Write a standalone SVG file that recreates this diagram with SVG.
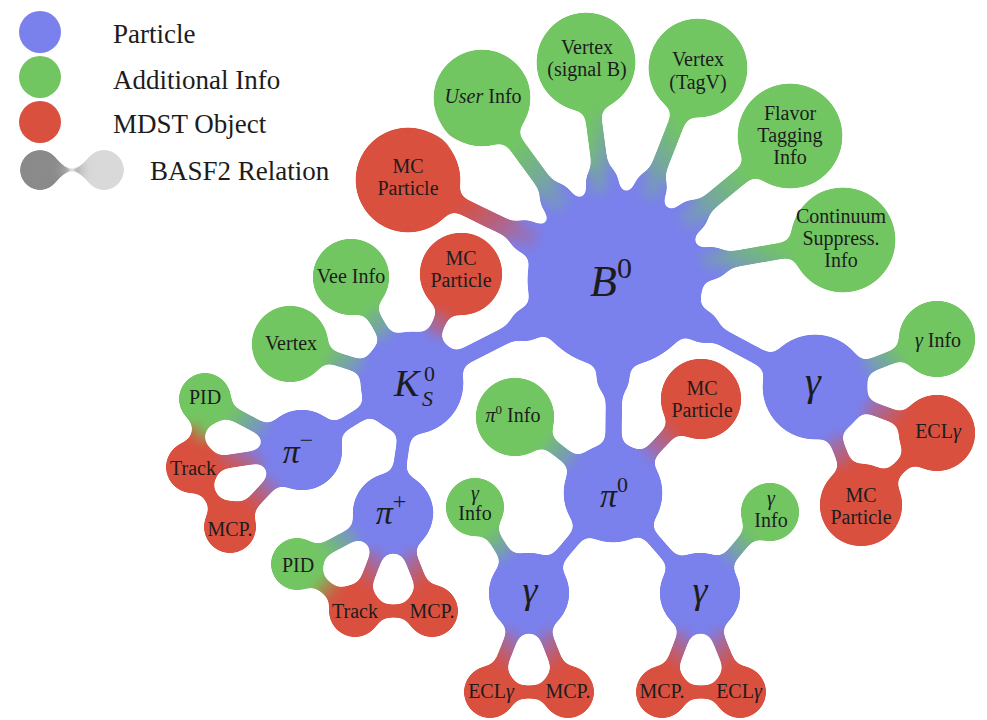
<svg xmlns="http://www.w3.org/2000/svg" width="987" height="720" viewBox="0 0 987 720">
<defs>
<filter id="goo" filterUnits="userSpaceOnUse" x="0" y="0" width="987" height="720" color-interpolation-filters="sRGB">
<feGaussianBlur in="SourceGraphic" stdDeviation="6" result="b"/>
<feColorMatrix in="b" type="matrix" values="1 0 0 0 0  0 1 0 0 0  0 0 1 0 0  0 0 0 20 -10"/>
</filter>
<linearGradient id="bg-nw" x1="1" y1="1" x2="0" y2="0"><stop offset="0.3" stop-color="#7a80ec"/><stop offset="0.75" stop-color="#72c662"/></linearGradient>
<linearGradient id="bg-ne" x1="0" y1="1" x2="1" y2="0"><stop offset="0.3" stop-color="#7a80ec"/><stop offset="0.75" stop-color="#72c662"/></linearGradient>
<linearGradient id="bg-sw" x1="1" y1="0" x2="0" y2="1"><stop offset="0.3" stop-color="#7a80ec"/><stop offset="0.75" stop-color="#72c662"/></linearGradient>
<linearGradient id="br-nw" x1="1" y1="1" x2="0" y2="0"><stop offset="0.3" stop-color="#7a80ec"/><stop offset="0.75" stop-color="#d9503f"/></linearGradient>
<linearGradient id="br-ne" x1="0" y1="1" x2="1" y2="0"><stop offset="0.3" stop-color="#7a80ec"/><stop offset="0.75" stop-color="#d9503f"/></linearGradient>
<linearGradient id="br-sw" x1="1" y1="0" x2="0" y2="1"><stop offset="0.3" stop-color="#7a80ec"/><stop offset="0.75" stop-color="#d9503f"/></linearGradient>
<linearGradient id="br-se" x1="0" y1="0" x2="1" y2="1"><stop offset="0.3" stop-color="#7a80ec"/><stop offset="0.75" stop-color="#d9503f"/></linearGradient>
<linearGradient id="gr-sw" x1="1" y1="0" x2="0" y2="1"><stop offset="0.3" stop-color="#72c662"/><stop offset="0.7" stop-color="#d9503f"/></linearGradient>
<linearGradient id="gr-se" x1="0" y1="0" x2="1" y2="1"><stop offset="0.3" stop-color="#72c662"/><stop offset="0.7" stop-color="#d9503f"/></linearGradient>
<style>
.pb{fill:#7a80ec}
.pg{fill:#72c662}
.pr{fill:#d9503f}
.k1{fill:#8a8a8a}
.k2{fill:#d9d9d9}
line{stroke-linecap:round;stroke-width:14}
.bb{stroke:#7a80ec}
.rr{stroke:#d9503f}
.bgnw{stroke:url(#bg-nw)}
.bgne{stroke:url(#bg-ne)}
.bgsw{stroke:url(#bg-sw)}
.brnw{stroke:url(#br-nw)}
.brne{stroke:url(#br-ne)}
.brsw{stroke:url(#br-sw)}
.brse{stroke:url(#br-se)}
.grsw{stroke:url(#gr-sw)}
.grse{stroke:url(#gr-se)}
.kk{stroke:#b0b0b0;stroke-width:8}
.thick{stroke-width:17}
.flare{stroke:#7a80ec;stroke-width:34}
text{font-family:"Liberation Serif","DejaVu Serif",serif;fill:#1c1c1c;text-anchor:middle;font-size:20px}
.lg{text-anchor:start;font-size:27px}
.it{font-style:italic}
.st{text-anchor:start}
</style>
</defs>
<rect x="0" y="0" width="987" height="720" fill="#ffffff"/>

<g id="legend">
<circle class="pb" cx="40" cy="32" r="21"/>
<circle class="pg" cx="40" cy="77" r="21"/>
<circle class="pr" cx="40" cy="122" r="21"/>
<g filter="url(#goo)">
<line class="kk" x1="40" y1="170" x2="104" y2="170"/>
<circle class="k1" cx="40" cy="170" r="21"/>
<circle class="k2" cx="104" cy="170" r="21"/>
</g>
<text class="lg" x="113" y="43">Particle</text>
<text class="lg" x="113" y="89">Additional Info</text>
<text class="lg" x="113" y="133">MDST Object</text>
<text class="lg" x="150" y="180">BASF2 Relation</text>
</g>

<g id="graph" filter="url(#goo)">
<g id="connectors">
<line class="flare" x1="615" y1="280" x2="525" y2="236"/>
<line class="flare" x1="615" y1="280" x2="556" y2="199"/>
<line class="flare" x1="615" y1="280" x2="602" y2="181"/>
<line class="flare" x1="615" y1="280" x2="651" y2="187"/>
<line class="flare" x1="615" y1="280" x2="692" y2="216"/>
<line class="flare" x1="615" y1="280" x2="713" y2="263"/>
<line class="flare" x1="615" y1="280" x2="526" y2="325"/>
<line class="flare" x1="615" y1="280" x2="613" y2="380"/>
<line class="flare" x1="615" y1="280" x2="703" y2="327"/>
<line class="brnw thick" x1="615" y1="280" x2="408" y2="180"/>
<line class="bgnw thick" x1="615" y1="280" x2="482" y2="98"/>
<line class="bgnw thick" x1="615" y1="280" x2="586" y2="62"/>
<line class="bgne thick" x1="615" y1="280" x2="698" y2="68"/>
<line class="bgne thick" x1="615" y1="280" x2="790" y2="136"/>
<line class="bgne thick" x1="615" y1="280" x2="843" y2="240"/>
<line class="bb thick" x1="615" y1="280" x2="412" y2="383"/>
<line class="bb thick" x1="615" y1="280" x2="613" y2="493"/>
<line class="bb thick" x1="615" y1="280" x2="815" y2="387"/>
<line class="bgnw" x1="412" y1="383" x2="351" y2="277"/>
<line class="brne" x1="412" y1="383" x2="461" y2="274"/>
<line class="bgnw" x1="412" y1="383" x2="290" y2="344"/>
<line class="bb" x1="412" y1="383" x2="302" y2="450"/>
<line class="bb" x1="412" y1="383" x2="393" y2="513"/>
<line class="bgnw" x1="302" y1="450" x2="205" y2="399"/>
<line class="brsw" x1="302" y1="450" x2="192" y2="467"/>
<line class="brsw" x1="302" y1="450" x2="230" y2="527"/>
<line class="grsw" x1="205" y1="399" x2="192" y2="467"/>
<line class="rr" x1="192" y1="467" x2="230" y2="527"/>
<line class="bgsw" x1="393" y1="513" x2="297" y2="564"/>
<line class="brsw" x1="393" y1="513" x2="355" y2="611"/>
<line class="brse" x1="393" y1="513" x2="432" y2="611"/>
<line class="grse" x1="297" y1="564" x2="355" y2="611"/>
<line class="rr" x1="355" y1="611" x2="432" y2="611"/>
<line class="bgnw" x1="613" y1="493" x2="515" y2="417"/>
<line class="brne" x1="613" y1="493" x2="701" y2="399"/>
<line class="bb" x1="613" y1="493" x2="529" y2="593"/>
<line class="bb" x1="613" y1="493" x2="700" y2="593"/>
<line class="bgnw" x1="529" y1="593" x2="475" y2="507"/>
<line class="brsw" x1="529" y1="593" x2="490" y2="692"/>
<line class="brse" x1="529" y1="593" x2="568" y2="692"/>
<line class="rr" x1="490" y1="692" x2="568" y2="692"/>
<line class="bgne" x1="700" y1="593" x2="770" y2="510"/>
<line class="brsw" x1="700" y1="593" x2="662" y2="692"/>
<line class="brse" x1="700" y1="593" x2="740" y2="692"/>
<line class="rr" x1="662" y1="692" x2="740" y2="692"/>
<line class="bgne" x1="815" y1="387" x2="936" y2="340"/>
<line class="brse" x1="815" y1="387" x2="936" y2="432"/>
<line class="brse" x1="815" y1="387" x2="861" y2="505"/>
<line class="rr" x1="936" y1="432" x2="861" y2="505"/>
</g>
<g id="node-B0"><circle class="pb" cx="615" cy="280" r="88"/></g>
<g id="node-mc-b"><circle class="pr" cx="408" cy="180" r="53"/></g>
<g id="node-user-info"><circle class="pg" cx="482" cy="98" r="49"/></g>
<g id="node-vertex-signal"><circle class="pg" cx="586" cy="62" r="50"/></g>
<g id="node-vertex-tagv"><circle class="pg" cx="698" cy="68" r="50"/></g>
<g id="node-flavor"><circle class="pg" cx="790" cy="136" r="53"/></g>
<g id="node-continuum"><circle class="pg" cx="843" cy="240" r="53"/></g>
<g id="node-K"><circle class="pb" cx="412" cy="383" r="52"/></g>
<g id="node-vee-info"><circle class="pg" cx="351" cy="277" r="39"/></g>
<g id="node-mc-k"><circle class="pr" cx="461" cy="274" r="42"/></g>
<g id="node-vertex-k"><circle class="pg" cx="290" cy="344" r="39"/></g>
<g id="node-pim"><circle class="pb" cx="302" cy="450" r="41"/></g>
<g id="node-pid-m"><circle class="pg" cx="205" cy="399" r="27"/></g>
<g id="node-track-m"><circle class="pr" cx="192" cy="467" r="27"/></g>
<g id="node-mcp-m"><circle class="pr" cx="230" cy="527" r="27"/></g>
<g id="node-pip"><circle class="pb" cx="393" cy="513" r="41"/></g>
<g id="node-pid-p"><circle class="pg" cx="297" cy="564" r="27"/></g>
<g id="node-track-p"><circle class="pr" cx="355" cy="611" r="27"/></g>
<g id="node-mcp-p"><circle class="pr" cx="432" cy="611" r="27"/></g>
<g id="node-pi0"><circle class="pb" cx="613" cy="493" r="50"/></g>
<g id="node-pi0-info"><circle class="pg" cx="515" cy="417" r="40"/></g>
<g id="node-mc-pi0"><circle class="pr" cx="701" cy="399" r="41"/></g>
<g id="node-gamma-l"><circle class="pb" cx="529" cy="593" r="41"/></g>
<g id="node-ginfo-l"><circle class="pg" cx="475" cy="507" r="30"/></g>
<g id="node-ecl-l"><circle class="pr" cx="490" cy="692" r="27"/></g>
<g id="node-mcp-l"><circle class="pr" cx="568" cy="692" r="27"/></g>
<g id="node-gamma-r"><circle class="pb" cx="700" cy="593" r="41"/></g>
<g id="node-ginfo-r"><circle class="pg" cx="770" cy="512" r="30"/></g>
<g id="node-mcp-r"><circle class="pr" cx="662" cy="692" r="27"/></g>
<g id="node-ecl-r"><circle class="pr" cx="740" cy="692" r="27"/></g>
<g id="node-gamma-b"><circle class="pb" cx="815" cy="387" r="53"/></g>
<g id="node-ginfo-b"><circle class="pg" cx="937" cy="339" r="39"/></g>
<g id="node-ecl-b"><circle class="pr" cx="937" cy="433" r="39"/></g>
<g id="node-mc-g"><circle class="pr" cx="861" cy="505" r="42"/></g>
</g>

<g id="labels">
<text x="611" y="296" class="it" style="font-size:44px">B<tspan style="font-style:normal;font-size:30px" dy="-18">0</tspan></text>
<text x="408" y="173">MC</text><text x="408" y="195">Particle</text>
<text x="483" y="103"><tspan class="it">User</tspan> Info</text>
<text x="587" y="54">Vertex</text><text x="587" y="76">(signal B)</text>
<text x="698" y="66">Vertex</text><text x="698" y="89">(TagV)</text>
<text x="790" y="120">Flavor</text><text x="790" y="142">Tagging</text><text x="790" y="164">Info</text>
<text x="841" y="223">Continuum</text><text x="841" y="245">Suppress.</text><text x="841" y="267">Info</text>
<text x="394" y="396" class="it st" style="font-size:38px">K</text>
<text x="424" y="381" class="st" style="font-size:22px">0</text>
<text x="422" y="406" class="it st" style="font-size:22px">S</text>
<text x="351" y="283">Vee Info</text>
<text x="461" y="265">MC</text><text x="461" y="287">Particle</text>
<text x="291" y="350">Vertex</text>
<text x="298" y="463" class="it" style="font-size:34px">π<tspan style="font-style:normal;font-size:24px" dy="-15">−</tspan></text>
<text x="205" y="404">PID</text>
<text x="193" y="475">Track</text>
<text x="230" y="536">MCP.</text>
<text x="391" y="524" class="it" style="font-size:34px">π<tspan style="font-style:normal;font-size:24px" dy="-15">+</tspan></text>
<text x="298" y="572">PID</text>
<text x="355" y="618">Track</text>
<text x="432" y="618">MCP.</text>
<text x="614" y="507" class="it" style="font-size:34px">π<tspan style="font-style:normal;font-size:22px" dy="-15">0</tspan></text>
<text x="513" y="422"><tspan class="it">π</tspan><tspan style="font-size:13px" dy="-8">0</tspan><tspan dy="8"> Info</tspan></text>
<text x="702" y="395">MC</text><text x="702" y="417">Particle</text>
<text x="530" y="603" class="it" style="font-size:38px">γ</text>
<text x="475" y="500" class="it">γ</text><text x="475" y="520">Info</text>
<text x="491" y="698">ECL<tspan class="it">γ</tspan></text>
<text x="568" y="698">MCP.</text>
<text x="700" y="603" class="it" style="font-size:38px">γ</text>
<text x="771" y="505" class="it">γ</text><text x="771" y="527">Info</text>
<text x="662" y="698">MCP.</text>
<text x="739" y="698">ECL<tspan class="it">γ</tspan></text>
<text x="813" y="395" class="it" style="font-size:40px">γ</text>
<text x="938" y="347"><tspan class="it">γ</tspan> Info</text>
<text x="938" y="438">ECL<tspan class="it">γ</tspan></text>
<text x="861" y="502">MC</text><text x="861" y="524">Particle</text>
</g>
</svg>
